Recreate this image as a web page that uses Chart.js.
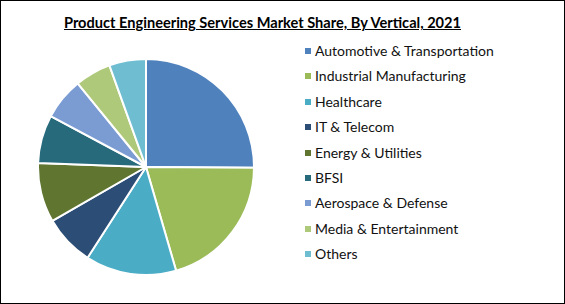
<!DOCTYPE html>
<html><head><meta charset="utf-8">
<script src="https://cdn.jsdelivr.net/npm/chart.js@4/dist/chart.umd.min.js"></script>
<style>
html,body{margin:0;padding:0;background:#fff;}
#wrap{position:relative;width:565px;height:304px;box-sizing:border-box;border:1px solid #000;background:#fff;overflow:hidden;}
#title{position:absolute;left:0;width:565px;top:13px;text-align:center;font-family:Lato,"Open Sans",sans-serif;font-weight:700;font-size:14.6px;text-decoration:underline;color:#000;margin-left:-21px;}
#pieBox{position:absolute;left:36px;top:57px;width:218px;height:218px;}
#legend{position:absolute;left:303px;top:37px;font-family:Lato,"Open Sans",sans-serif;font-size:14px;color:#111;}
.li{height:25.4px;line-height:25.4px;position:relative;white-space:nowrap;}
.sw{position:absolute;left:1px;top:10px;width:6px;height:6px;}
.tx{position:absolute;left:11px;top:0;}
</style></head>
<body>
<div id="wrap">
<div id="title">Product Engineering Services Market Share, By Vertical, 2021</div>
<div id="pieBox"><canvas id="c" width="218" height="218"></canvas></div>
<div id="legend"></div>
</div>
<script>
const categories = ["Automotive & Transportation","Industrial Manufacturing","Healthcare","IT & Telecom","Energy & Utilities","BFSI","Aerospace & Defense","Media & Entertainment","Others"];
const shares = [25.1,20.4,13.6,7.6,8.9,7.2,6.3,5.4,5.5];
const colors = ["#4F81BD","#9BBB59","#4BACC6","#2C4D75","#5F7530","#276A7C","#7B9CD3","#AFC97A","#6FBDD1"];

const leg = document.getElementById('legend');
categories.forEach((c,i)=>{
  const d=document.createElement('div');d.className='li';
  d.innerHTML='<span class="sw" style="background:'+colors[i]+'"></span><span class="tx"></span>';
  d.querySelector('.tx').textContent=c;
  leg.appendChild(d);
});

new Chart(document.getElementById('c'),{
  type:'pie',
  data:{labels:categories,datasets:[{data:shares,backgroundColor:colors,borderColor:'#fff',borderWidth:2}]},
  options:{responsive:false,animation:false,layout:{padding:0},
    plugins:{legend:{display:false},tooltip:{enabled:false}}}
});
</script>
</body></html>
